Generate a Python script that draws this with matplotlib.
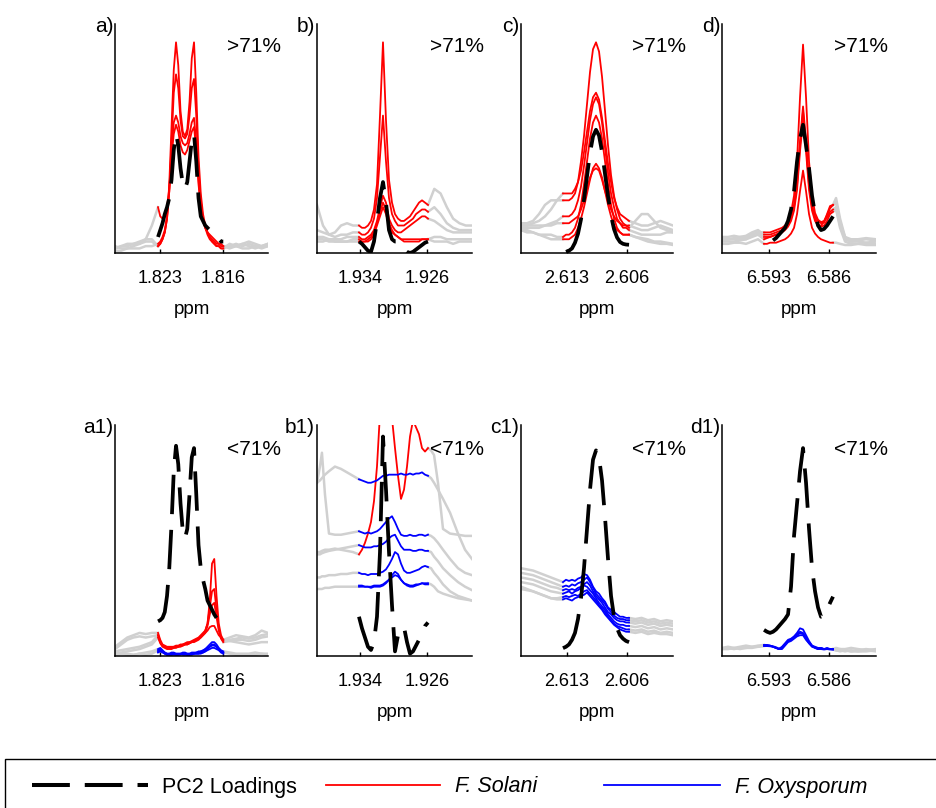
import numpy as np
import matplotlib
matplotlib.use("Agg")
import matplotlib.pyplot as plt
from matplotlib.lines import Line2D
from matplotlib.patches import Rectangle

nan = np.nan

# ---------------- panel x ranges / ticks (ppm) ----------------
A_XLIM = (1.8280, 1.8110); A_TICKS = [1.823, 1.816]
B_XLIM = (1.93913, 1.92063); B_TICKS = [1.934, 1.926]
C_XLIM = (2.61837, 2.60063); C_TICKS = [2.613, 2.606]
D_XLIM = (6.59848, 6.58052); D_TICKS = [6.593, 6.586]

# sampling positions (ppm) of the highlighted window and the grey flanks
A_X = np.linspace(1.82322, 1.81597, 30)
A_GL = np.linspace(1.8280, 1.82322, 8)
A_GR = np.linspace(1.81597, 1.8110, 8)
B_X = np.linspace(1.93412, 1.92588, 24)
B_GL = np.linspace(1.93913, 1.93412, 8)
B_GR = np.linspace(1.92588, 1.92063, 8)
B1_GL = [1.93913, 1.93878, 1.93854, 1.93818, 1.93770, 1.93699, 1.93627, 1.93555, 1.93484, 1.93412]
B1_GR = [1.92588, 1.92552, 1.92516, 1.92469, 1.92409, 1.92325, 1.92230, 1.92146, 1.92063]
C_X = np.linspace(2.61347, 2.60576, 23)
C_GL = np.linspace(2.61837, 2.61347, 8)
C_GR = np.linspace(2.60576, 2.60063, 8)
D_X = np.linspace(6.59358, 6.58553, 24)
D_GL = np.linspace(6.59848, 6.59358, 8)
D_GR = [6.58553, 6.58518, 6.58471, 6.58413, 6.58343, 6.58261, 6.58168, 6.58052]

# ---------------- panel a (>71%) ----------------
A_RED = [
    [3,4,6,9,15,30,55,80,92,82,62,53,51,54,66,85,92,70,42,26,17,12,9,7,5,4,3,3,2,2],
    [3,4,6,9,15,27,48,70,78,72,58,51,50,52,60,72,76,60,36,23,15,11,8,6,5,4,3,3,2,2],
    [4,5,7,10,16,27,45,57,60,57,51,48,47,48,52,57,59,48,32,21,14,11,9,7,6,5,4,4,3,3],
    [20,16,15,16,20,28,42,52,56,53,47,44,43,45,49,53,55,45,30,20,14,11,9,8,7,6,5,4,4,3],
]
A_BLACK = [7,10,13,17,20,24,32,45,52,47,37,30,28,31,40,49,52,40,24,16,14,12,11,10,9,8,7,6,5,5]
A_GRAY_L = [[2,3,3,4,5,6,6,3],[2,3,4,4,4,5,5,3],[1,1,2,2,2,3,3,4],[3,2,2,3,4,6,12,20]]
A_GRAY_R = [[2,3,4,3,4,3,3,4],[2,4,3,4,3,2,3,4],[3,2,3,2,2,3,2,3],[3,3,3,4,5,4,3,3]]

# ---------------- panel b (>71%) ----------------
B_RED = [
    [12,11,11,12,14,19,30,60,92,58,32,22,17,15,14,14,15,16,18,20,22,23,22,21],
    [9,8,8,9,11,15,24,42,60,40,24,17,14,12,12,12,13,14,15,17,18,19,19,18],
    [7,6,6,7,8,10,14,20,25,22,15,12,10,9,9,10,11,12,13,14,15,16,16,15],
    [6,5,5,6,7,9,13,18,22,19,13,10,8,7,6,6,6,6,6,6,6,6,6,6],
    [5,5,5,5,6,8,12,16,20,17,12,9,8,7,6,5,5,5,5,5,5,6,6,6],
]
B_BLACK = [5,4,2.5,1,0.5,5,14,24,31,22,10,6,5,5,3,1.5,0.5,0,0.5,1.5,2.5,3.5,4.5,5]
B_GRAY_L = [[21,12,8,9,12,13,12,12],[10,9,8,7,8,8,9,9],[7,7,6,6,6,7,7,7],
            [5,5,6,5,5,5,6,6],[6,6,5,5,5,5,5,5]]
B_GRAY_R = [[21,28,26,20,15,13,12,12],[18,20,17,13,11,10,10,10],[15,14,12,10,9,9,9,9],
            [6,7,7,6,6,6,6,6],[6,5,5,5,4,5,5,5]]

# ---------------- panel c (>71%) ----------------
C_RED = [
    [23,23,23,24,26,31,40,51,65,79,89,92,88,77,62,47,34,25,19,15,13,12,11],
    [26,26,26,26,28,31,36,44,53,62,68,70,67,59,49,39,31,24,20,17,16,15,14],
    [16,16,16,17,19,23,29,38,48,58,65,68,65,57,46,35,26,20,15,13,11,11,10],
    [7,8,8,9,11,15,21,30,40,50,57,60,57,50,40,30,21,15,11,9,8,8,8],
    [6,6,6,7,8,11,15,20,26,32,37,39,37,33,27,21,16,12,10,9,8,8,8],
    [13,13,13,14,15,16,19,23,28,33,36,37,36,32,27,23,19,16,14,13,12,12,12],
]
C_BLACK = [nan,0.5,1,2,4.5,8.4,14.7,23.4,33.5,43.6,50.9,53.8,51.3,44.2,34.5,24.7,16.3,10.4,6.8,4.8,4,3.7,3.6]
C_GRAY_L = [[13,13,14,17,21,23,23,23],[12,12,13,14,16,19,23,26],[11,11,11,11,12,13,14,16],
            [10,9,9,8,8,8,7,7],[10,10,9,8,7,6,6,6],[12,12,12,12,12,12,13,13]]
C_GRAY_R = [[11,14,17,17,14,11,10,9],[14,13,12,12,13,14,13,12],[10,9,8,8,8,8,9,9],
            [8,7,6,5,4.5,4,4,3.5],[8,7,6.5,6,5,5,4.5,4],[12,11,10,10,11,12,11,10]]

# ---------------- panel d (>71%) ----------------
D_RED = [
    [6,6.5,7,7.5,8,8.5,9.5,11,13.5,17.5,25,40,68,91,68,40,25,17.5,14.5,13.5,14,16.5,19.5,21],
    [9,9,9,9.5,10,10.5,11,12,13.5,16,21,31,49,64,49,31,21,16,14,13,13.5,15.5,18,19],
    [8,8,8,8.5,9,9.5,10,11,12.5,15,20,29.5,47,62,47,29.5,20,15,12.5,11.5,12,14,17,18],
    [4,4,4.5,4.5,4.5,5,5.5,6,7,8.5,11,17,27,36,27,17,11,8.5,7,6,5.5,5,4.5,4.5],
    [7,7,7,7.5,8,8.5,9,10,11.5,14,18.5,27.5,44.5,58,44.5,27.5,18.5,14,12,12,13.5,17,20.5,21],
]
D_BLACK = [nan,nan,nan,5.5,6.5,8,9.5,11,14,19,27,40,50,56,47,37,25,17,12,10,10.5,12,14,16]
D_GRAY_L = [[6,6,6,6,6,7,8,6],[7,7,7.5,7,7,8,9,9],[6,6,6.5,7,7.5,9,10,8],
            [4,4,4.5,4.5,4,5,6,4],[5,5,5,5.5,6,8,9,7]]
D_GRAY_R = [[21,24,15,7,5,5.5,6,5.5],[19,20,12,6,5,5,4.5,5],[18,19,11,5,4,4,4.5,4],
            [4.5,4.5,4,3.5,3.5,4,3.5,3.5],[21,22,13,7,6,6,6.5,6]]

# ---------------- panel a1 (<71%) ----------------
A1_RED = [
    [10,7,5,4.5,4,4,4,4,4.5,4.5,5,5,5.5,6,6,6.5,7,7.5,8,9,10,11,14,24,40,42,26,14,9,7],
    [9,6,4.5,4,3.5,3.5,3.5,4,4,4,4.5,5,5,5.5,6,6,6.5,7,7.5,8.5,9.5,11,14,21,28,29,20,12,8,6.5],
    [8,5.5,4,3.5,3,3,3,3.5,3.5,4,4,4.5,5,5,5.5,6,6,6.5,7,8,9,10,13,18,22,23,17,11,7.5,6],
    [9,6,4.5,4,3.5,3.5,3.5,3.5,4,4,4.5,4.5,5,5,5.5,6,6.5,7,7.5,8,9,10,11,12.5,13,13,11,9,8,7],
]
A1_BLUE = [
    [3,3.5,2.5,1.5,1,1,1,1,1,1,1,1,1,1,1,1,1,1.5,1.5,2,2,3,4,5,6,6,5,3.5,2.5,2],
    [2.5,3,2,1,0.5,0.5,0.5,0.5,0.5,0.5,1,0.5,0.5,0.5,0.5,1,1,1,1,1.5,1.5,2,3,4,5,5,4,3,2,1.5],
    [2,2.5,2,1.5,1,1,1.5,1.5,1,1,1,1.5,1.5,1,1,1.5,1.5,1.5,2,2,2.5,3,3.5,4,4.5,4.5,4,3,2,1.5],
    [1.5,2,1.5,1,0.5,0.5,0.5,1,0.5,0.5,0.5,1,1,0.5,0.5,0.5,1,1,1,1,1.5,2,2.5,3,3.5,3.5,3,2.5,1.5,1],
]
A1_BLACK = [15,15.5,16.5,19,26,38,57,80,91,83,66,54,51,55,70,86,90,70,48,38,33,29,24,22,20,18,16.5,15,13,11.5]
A1_GRAY_L = [[4,6,8,9,10,9.5,10,10],[3,5,7,8,8.5,8,8.5,9],[1,1.5,2,2.5,3,4,5,8],
             [2,2.5,3,3.5,4,5,6,9],[1,1,1,0.5,1,1.5,2,3],[0.5,1,0.5,0.5,1,0.5,1,2.5]]
A1_GRAY_R = [[7,8,9,8.5,8,9,11,10],[6.5,7,7.5,8,7.5,8,9,9.5],[6,6.5,7,7,6.5,7,8,8.5],
             [7,6.5,6,5.5,5,5.5,6,6],[2,1.5,1,1,1,1.5,1,1],[1.5,1,0.5,0.5,0.5,0.5,1,0.5]]

# ---------------- panel b1 (<71%) ----------------
B1_RED = [[44,46,49,53,58,67,82,105,125,130,120,103,90,78,68,72,82,95,102,99,96,90,88.5,90]]
B1_BLUE = [
    [76.5,76,75.5,75,75,75.5,76,77,78,78,78.5,78.5,78.5,78.5,79,78.5,78.5,79,78.5,79,79,79.5,78.5,78],
    [54,53.5,53,53.5,53,53.5,54,55,56.5,58,59.5,60.5,58,55,52.5,52,52,52.5,52,52,52.5,52.5,52,52.5],
    [48,47.5,47,47,47,47.5,47.5,48,48.5,49.5,51,52,52.5,50,47.5,46,46,46,45.5,45.5,46,46,45.5,45.5],
    [36,35.5,35.5,35,35.5,35.5,35.5,36,36.5,37.5,39.5,42,45,44,40,37,36,36,36.5,37,37.5,38.5,39,38.5],
    [30,30,30,30,29.5,30,30,30,30.5,31.5,33,35,36.5,35.5,33,31.5,30.5,30,30,30.5,31,31.5,31.5,31.5],
    [30.5,30.5,30,30,30,30.5,30.5,30.5,31,32,33,34,35,34.5,33,31.5,31,30.5,30.5,31,31,31.5,31,31],
]
B1_BLACK = [17,12,8,4,2.6,6,17,45,95,72,45,22,2,9,12,12.5,6,1,2,4.5,7,10,13,14.5]
B1_GRAY_L = [[75,82,88,70,53,52.5,52.5,53,53.5,54],
             [75,76,77,78.5,80,82,81,79.5,78,76.5],
             [45,45,45.5,46,46,46.5,46,45.5,45,44],
             [44,44,44.5,45,45.5,46,46.5,47,47.5,48],
             [34,34,34.5,34.5,35,35,35.5,35.5,36,36],
             [29,29,29,29.5,29.5,30,30,30,30,30]]
B1_GRAY_R = [[90,89,87,75,55,53,52.5,52,52],
             [78,77,75,72,68,62,53,46,42],
             [52.5,52,51,49,46,42,38,36,35],
             [45.5,45,43,41,38,35,32,30,28.5],
             [38.5,38,36,34,31,28,26,25,24],
             [31.5,31,30,28,27,26,25,24.5,24]]

# ---------------- panel c1 (<71%) ----------------
C1_BLUE = [
    [32,33,32.5,33,32.5,33.5,34,35.5,35,33,30,28,27,25,23.5,21,20,19,18,17,17,16.5,16.5],
    [30,30.5,30,31,30.5,31.5,32,33,34,32,29.5,27,25.5,24,22.5,20.5,19,17.5,16.5,16,16,15.5,15.5],
    [28.5,29,28.5,29,28.5,29.5,30,31,32,30.5,28,26,24.5,23,21,19,18,16.5,15.5,15,15,14.5,14.5],
    [27,27.5,28,27,28,28.5,29.5,30.5,30,28.5,27,25,23,21.5,20,18,16.5,15,14,13.5,13.5,13,13],
    [25.5,26,25.5,26,26.5,26,27,28,28.5,27,25.5,24,22,20.5,19,17,15.5,14,13,12.5,12,11.5,11.5],
    [24.5,25,24.5,24,25,25.5,26,26.5,27.5,26,24.5,23,21.5,20,18,16.5,15,13.5,12.5,11.5,11,10.5,10.5],
]
C1_BLACK = [3.4,4,5,7,10,16,25,38,55,72,85,89,86,76,60,42,26,17,12,9,7.5,6.5,6]
C1_GRAY_L = [[38,37.5,37,36,35,34,33,32],[36,35.5,35,34,33,32,31,30],[34,33.5,33,32,31,30,29.5,28.5],
             [32,31.5,31,30,29,28,27.5,27],[30,29,28,27,26,25,25,25.5],[29,28.5,28,27,26,25,24.5,24.5]]
C1_GRAY_R = [[16.5,16,16.5,15.5,16,15,15.5,15],[15.5,15,15.5,14.5,15,14,14.5,14],
             [14.5,14,14.5,13.5,14,13,13.5,13],[13,12.5,13,12,12.5,11.5,12,11.5],
             [11.5,11,11.5,10.5,11,10,10.5,10],[10.5,10,10.5,9.5,10,9.5,9.5,9]]

# ---------------- panel d1 (<71%) ----------------
D1_BLUE = [
    [4.8,4.8,4.5,4,3.5,3,4,5.5,7,7.5,8.5,10,12,11.5,9,6.5,4.5,4,3.5,3.5,3,3.5,3,3],
    [4.5,4.5,4.5,4,3.5,3,3.5,5,6.5,7,8,9.5,10.5,10,8,6,4.5,3.5,3,3.5,3,3,3,2.8],
    [4.3,4.3,4.2,4,3.5,3,3,4.5,6,6.5,7.5,8.5,9,9,7,5.5,4,3.5,3,3,2.8,3,2.8,2.8],
    [4.6,4.6,4.4,4.2,3.8,3.2,3.8,5,6.5,7.2,8,9,10,9.5,7.5,5.5,4.2,3.8,3.2,3.2,3,3.2,3,3],
]
D1_BLACK = [11.3,10.5,10,10.5,11.5,13,14.5,16,18,30,52,66,80,90,75,55,38,28,21,17,17.5,20,23,25.7]
D1_GRAY_L = [[3.5,4,3.5,4,4.5,4,4.5,4.8],[3,3.5,3,3.5,3.5,4,4,4.5],[3,3,3.5,3,3.5,3.5,4,4.3]]
D1_GRAY_R = [[3,3.5,3,3,3.5,3,2.5,3],[2.8,2.5,3,2.5,2,2.5,3,2.5],
             [2.8,2.5,2,2.5,2,2,2.5,2],[3,2.5,2.5,2,2.5,2,2,2.5]]

LABELS_TOP = ["a)", "b)", "c)", "d)"]
LABELS_BOT = ["a1)", "b1)", "c1)", "d1)"]
PCT_TOP = ">71%"
PCT_BOT = "<71%"
LEGEND_LABELS = ["PC2 Loadings", "F. Solani", "F. Oxysporum"]

# ---------------- styling ----------------
plt.rcParams['font.family'] = ['Liberation Sans', 'DejaVu Sans']
GRAY = '#d0d0d0'
RED = '#ff0000'
BLUE = '#0000ff'

W, H = 937, 808
fig = plt.figure(figsize=(W / 100, H / 100), dpi=100)
LEFTS = [115, 317, 521, 722]
WIDTHS = [153, 155, 152, 154]
ROWS = [(24, 253), (425, 656)]


def make_ax(col, row):
    top, bot = ROWS[row]
    return fig.add_axes([LEFTS[col] / W, 1 - bot / H, WIDTHS[col] / W, (bot - top) / H])


def draw(ax, xlim, ticks, x, gl_x, gl, gr_x, gr, groups, black, label, pct, pct_y):
    for g in gl:
        ax.plot(gl_x, g, color=GRAY, lw=1.8, solid_joinstyle='round')
    for g in gr:
        ax.plot(gr_x, g, color=GRAY, lw=1.8, solid_joinstyle='round')
    for curves, col in groups:
        for c in curves:
            ax.plot(x, c, color=col, lw=1.3)
    ax.plot(x, black, color='k', lw=2.7, dashes=(10.5, 4.2), dash_capstyle='butt')
    ax.set_xlim(xlim)
    ax.set_ylim(0, 100)
    ax.set_xticks(ticks)
    ax.set_xticklabels([f"{t:.3f}" for t in ticks])
    ax.set_yticks([])
    ax.spines['top'].set_visible(False)
    ax.spines['right'].set_visible(False)
    for s in ('left', 'bottom'):
        ax.spines[s].set_linewidth(1.1)
    ax.tick_params(axis='x', direction='in', length=3, width=1, pad=12.5, labelsize=13)
    ax.set_xlabel('ppm', fontsize=13.5, labelpad=10)
    ax.text(-0.012, 0.966, label, transform=ax.transAxes, ha='right', va='baseline', fontsize=15)
    ax.text(0.73, pct_y, pct, transform=ax.transAxes, ha='left', va='baseline', fontsize=15)


top_specs = [
    (A_XLIM, A_TICKS, A_X, A_GL, A_GRAY_L, A_GR, A_GRAY_R, [(A_RED, RED)], A_BLACK),
    (B_XLIM, B_TICKS, B_X, B_GL, B_GRAY_L, B_GR, B_GRAY_R, [(B_RED, RED)], B_BLACK),
    (C_XLIM, C_TICKS, C_X, C_GL, C_GRAY_L, C_GR, C_GRAY_R, [(C_RED, RED)], C_BLACK),
    (D_XLIM, D_TICKS, D_X, D_GL, D_GRAY_L, D_GR, D_GRAY_R, [(D_RED, RED)], D_BLACK),
]
bot_specs = [
    (A_XLIM, A_TICKS, A_X, A_GL, A1_GRAY_L, A_GR, A1_GRAY_R, [(A1_RED, RED), (A1_BLUE, BLUE)], A1_BLACK),
    (B_XLIM, B_TICKS, B_X, B1_GL, B1_GRAY_L, B1_GR, B1_GRAY_R, [(B1_RED, RED), (B1_BLUE, BLUE)], B1_BLACK),
    (C_XLIM, C_TICKS, C_X, C_GL, C1_GRAY_L, C_GR, C1_GRAY_R, [(C1_BLUE, BLUE)], C1_BLACK),
    (D_XLIM, D_TICKS, D_X, D_GL, D1_GRAY_L, D_GR, D1_GRAY_R, [(D1_BLUE, BLUE)], D1_BLACK),
]

for i, spec in enumerate(top_specs):
    ax = make_ax(i, 0)
    draw(ax, *spec, LABELS_TOP[i], PCT_TOP, 0.876)
for i, spec in enumerate(bot_specs):
    ax = make_ax(i, 1)
    draw(ax, *spec, LABELS_BOT[i], PCT_BOT, 0.872)

# ---------------- legend box ----------------
tf = fig.transFigure
box_top = 1 - 759 / H
fig.add_artist(Rectangle((5 / W, -0.2), 1.5, box_top + 0.2, transform=tf,
                         fill=False, ec='k', lw=1.0, clip_on=False))
ly = 1 - 785 / H
base_y = 1 - 792.5 / H
fig.add_artist(Line2D([32 / W, 148 / W], [ly, ly], color='k', lw=2.9,
                      dashes=(9.4, 3.7), dash_capstyle='butt', transform=tf))
fig.add_artist(Line2D([326 / W, 440 / W], [ly, ly], color=RED, lw=1.3, transform=tf))
fig.add_artist(Line2D([604 / W, 720 / W], [ly, ly], color=BLUE, lw=1.3, transform=tf))
fig.text(162 / W, base_y, LEGEND_LABELS[0], va='baseline', ha='left', fontsize=15.5)
fig.text(455 / W, base_y, LEGEND_LABELS[1], va='baseline', ha='left', fontsize=15.5, style='italic')
fig.text(735 / W, base_y, LEGEND_LABELS[2], va='baseline', ha='left', fontsize=15.5, style='italic')

fig.savefig('out.png', dpi=100)
